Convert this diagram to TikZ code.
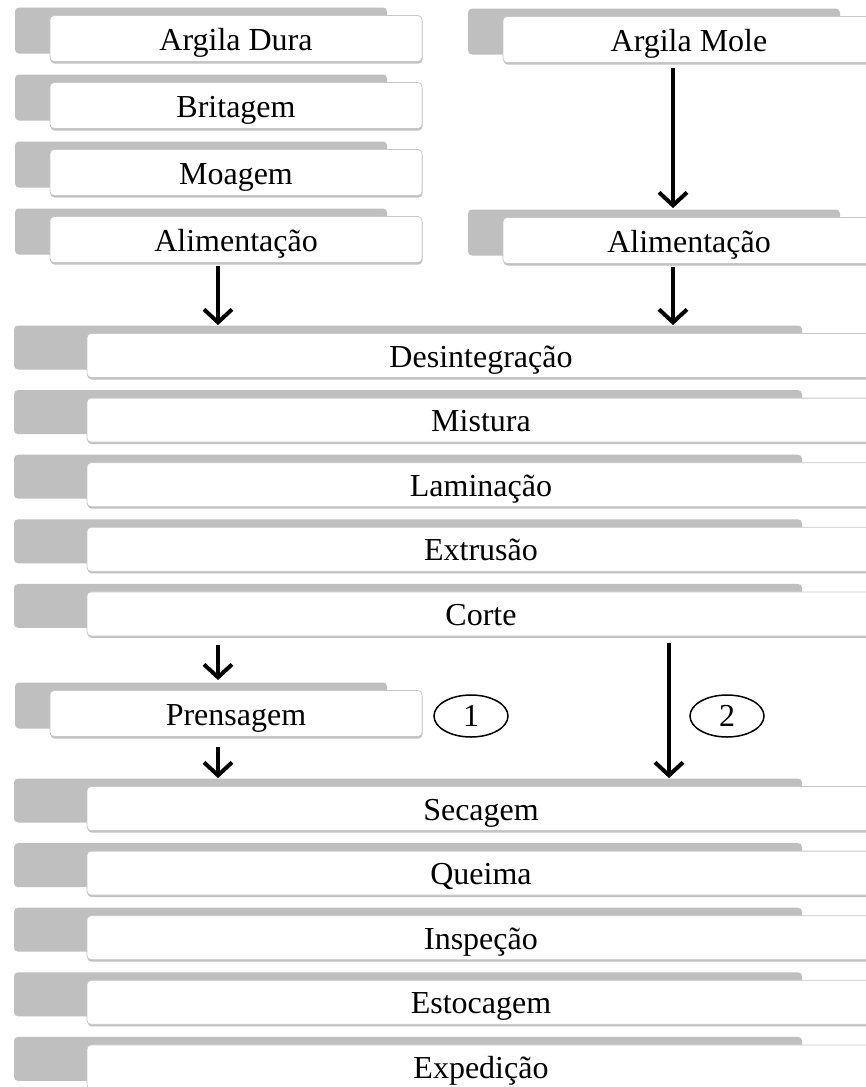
\documentclass[tikz,border=0pt]{standalone}
\usepackage{fontspec}
\setmainfont{Liberation Serif}
\usepackage{tikz}
\usetikzlibrary{shadows,shapes.geometric,arrows.meta}

\definecolor{tabgray}{RGB}{191,191,191}
\definecolor{cardline}{RGB}{200,200,200}

\begin{document}
\begin{tikzpicture}[x=1pt, y=-1pt,
  every node/.style = {
     font=\fontsize{32}{36}\selectfont},
  card/.style = {draw=cardline, line width=0.8pt, fill=white,
     rounded corners=4pt, inner sep=0pt, text height=27pt, text depth=4pt,
     general shadow={fill=tabgray, shadow xshift=-#1, shadow yshift=8pt},
     drop shadow={shadow xshift=0.5pt, shadow yshift=-2pt,
       fill=black!60, opacity=.4}},
  small/.style = {card=35pt, minimum width=372pt, minimum height=46pt},
  wide/.style = {card=73pt, minimum width=788pt, minimum height=44pt},
  tag/.style = {ellipse, draw, line width=1.5pt, fill=white,
     minimum width=74pt, minimum height=42pt, inner sep=0pt,
     font=\fontsize{32}{34}\selectfont},
  flow/.style = {line width=4.5pt,
     -{Straight Barb[length=13pt,width=28pt,line width=4pt]}}]

  \useasboundingbox (0,0) rectangle (866,1087);
  \clip (0,0) rectangle (866,1087);

  % argila dura
  \node[small] (dura) at (236,38.5) {Argila Dura};
  \node[small] (brit) at (236,105.5) {Britagem};
  \node[small] (moag) at (236,172.5) {Moagem};
  \node[small] (alim1) at (236,239.5) {Alimentação};

  % argila mole
  \node[small] (mole) at (689,39.5) {Argila Mole};
  \node[small] (alim2) at (689,240.5) {Alimentação};

  \node[wide] (desint) at (481,355.5) {Desintegração};
  \node[wide] (mist) at (481,420.1) {Mistura};
  \node[wide] (lamin) at (481,484.7) {Laminação};
  \node[wide] (extr) at (481,549.3) {Extrusão};
  \node[wide] (corte) at (481,613.9) {Corte};

  \node[small] (prens) at (236,713.5) {Prensagem};
  \node[tag] (um) at (471,716) {1};
  \node[tag] (dois) at (727,716) {2};

  \node[wide] (secag) at (481,808.5) {Secagem};
  \node[wide] (queima) at (481,873.1) {Queima};
  \node[wide] (insp) at (481,937.7) {Inspeção};
  \node[wide] (estoc) at (481,1002.3) {Estocagem};
  \node[wide] (exped) at (481,1066.9) {Expedição};

  \draw[flow] ([xshift=-16pt,yshift=-5pt]mole.south)
    -- ([xshift=-16pt,yshift=9pt]mole.south |- alim2.north);
  \draw[flow] ([xshift=-18pt,yshift=-3pt]alim1.south)
    -- ([xshift=-18pt,yshift=8pt]alim1.south |- desint.north);
  \draw[flow] ([xshift=-16pt,yshift=-3pt]alim2.south)
    -- ([xshift=-16pt,yshift=8pt]alim2.south |- desint.north);
  \draw[flow] ([xshift=-18pt,yshift=-9pt]prens.north |- corte.south)
    -- ([xshift=-18pt,yshift=10pt]prens.north);
  \draw[flow] ([xshift=-18pt,yshift=-10pt]prens.south)
    -- ([xshift=-18pt,yshift=8pt]prens.south |- secag.north);
  \draw[flow] ([xshift=188pt,yshift=-7pt]corte.south)
    -- ([xshift=188pt,yshift=8pt]corte.south |- secag.north);
\end{tikzpicture}
\end{document}
